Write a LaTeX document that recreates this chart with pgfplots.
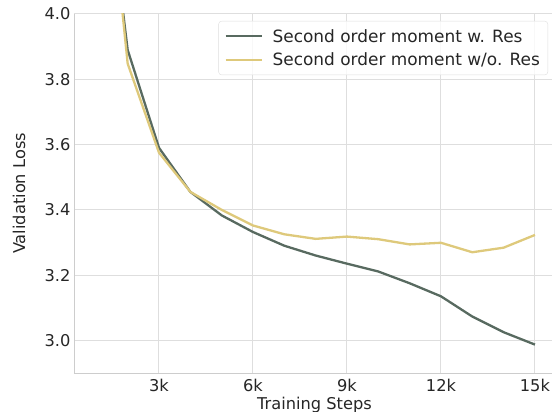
\documentclass[border=0pt]{standalone}
\usepackage{fontspec}
\setmainfont{DejaVu Sans}
\usepackage{pgfplots}
\pgfplotsset{compat=1.18}

\definecolor{resdark}{RGB}{88,106,96}
\definecolor{resyellow}{RGB}{222,201,123}
\definecolor{gridgray}{RGB}{222,222,222}
\definecolor{spinegray}{RGB}{205,205,205}

\newcommand{\chartfont}{\fontsize{16.3}{19.5}\selectfont}
\newcommand{\legendfont}{\fontsize{17}{20}\selectfont}

\begin{document}
\begin{tikzpicture}
\begin{axis}[
    scale only axis,
    width=481bp, height=359bp,
    xmin=0.287, xmax=15.64,
    ymin=2.9, ymax=4.0,
    axis x line=bottom, axis y line=left,
    axis line style={-, spinegray, line width=1pt},
    xtick={3,6,9,12,15},
    xticklabels={3k,6k,9k,12k,15k},
    ytick={3.0,3.2,3.4,3.6,3.8,4.0},
    yticklabel style={/pgf/number format/.cd, fixed, fixed zerofill, precision=1},
    /pgf/number format/assume math mode=true,
    major tick length=0pt,
    grid=major,
    major grid style={gridgray, line width=1pt},
    tick label style={font=\chartfont, text=black!85},
    xticklabel style={yshift=-2.5bp},
    label style={font=\chartfont, text=black!85},
    xlabel={Training Steps},
    ylabel={Validation Loss},
    xlabel style={at={(axis description cs:0.5,-0.0663)}, anchor=north, inner sep=0pt},
    ylabel style={at={(axis description cs:-0.1143,0.5)}, anchor=center, inner sep=0pt},
    legend cell align=left,
    legend image code/.code={\draw[#1, line width=2bp] (0bp,0bp) -- (36bp,0bp);},
    legend style={
        at={(rel axis cs:1,1)}, xshift=-7bp, yshift=-7bp, anchor=north east,
        draw=gridgray, rounded corners=3bp, fill=white, fill opacity=0.8,
        text opacity=1, font=\legendfont, text=black!85,
        inner xsep=6bp, inner ysep=6bp, row sep=5bp,
        /tikz/every odd column/.append style={column sep=8bp}
    },
]
\addplot[resdark, line width=2.3bp] coordinates {
    (1,4.68) (2,3.89) (3,3.59) (4,3.455) (5,3.383) (6,3.332) (7,3.29)
    (8,3.26) (9,3.235) (10,3.211) (11,3.175) (12,3.135) (13,3.073)
    (14,3.025) (15,2.987)
};
\addlegendentry{Second order moment w. Res}
\addplot[resyellow, line width=2.3bp] coordinates {
    (1,4.79) (2,3.848) (3,3.575) (4,3.455) (5,3.40) (6,3.352) (7,3.325)
    (8,3.311) (9,3.318) (10,3.31) (11,3.294) (12,3.299) (13,3.27)
    (14,3.284) (15,3.323)
};
\addlegendentry{Second order moment w/o. Res}
\end{axis}
\pgfresetboundingbox
\useasboundingbox (-74bp,-39bp) rectangle (478bp,373bp);
\end{tikzpicture}
\end{document}
